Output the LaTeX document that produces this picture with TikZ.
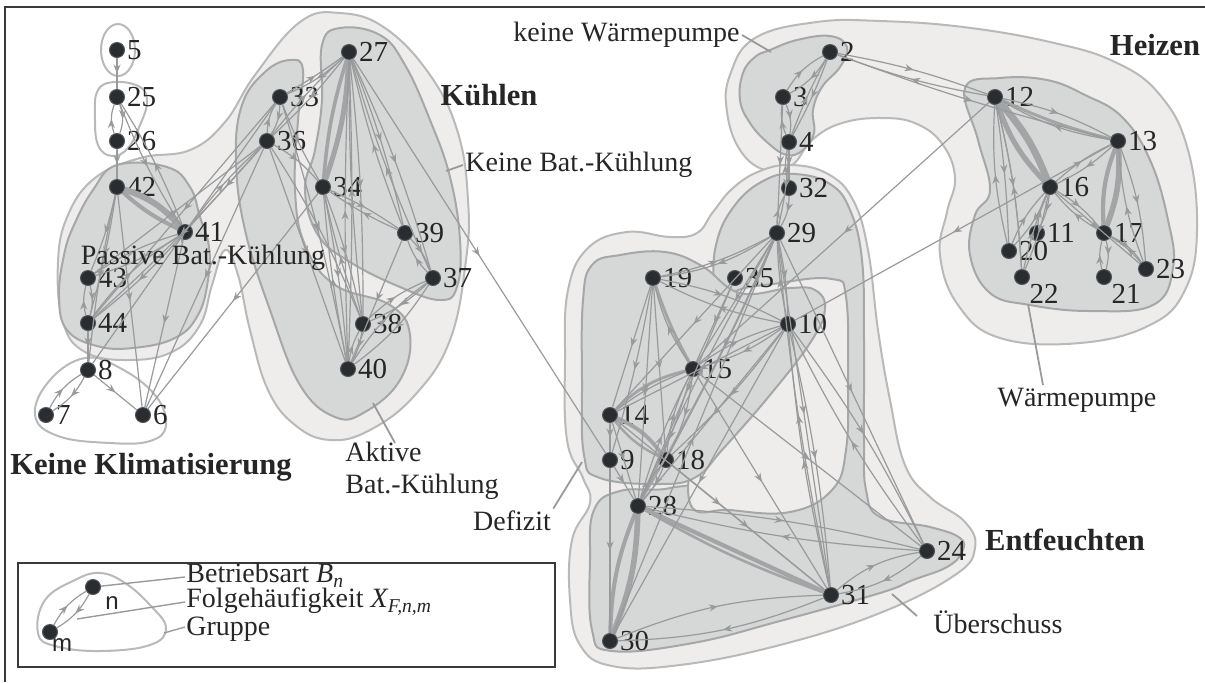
\documentclass[tikz,border=0pt]{standalone}
\usepackage{fontspec}
\setmainfont{Liberation Serif}
\setsansfont{Liberation Sans}
\usetikzlibrary{positioning, arrows.meta, decorations.markings}
\definecolor{GroupLight}{HTML}{EEEDEC}
\definecolor{GroupLightLine}{HTML}{B9B9B9}
\definecolor{GroupMid}{HTML}{D6D7D7}
\definecolor{GroupMidLine}{HTML}{A6A7A8}
\definecolor{EdgeGray}{HTML}{999A9B}
\definecolor{HeavyGray}{HTML}{A2A4A6}
\definecolor{DotFill}{HTML}{2A2D30}
\definecolor{DotLine}{HTML}{50545A}
\definecolor{Frame}{HTML}{3A3A3A}
\newcommand{\numfont}{\fontsize{14.5}{16}\selectfont}
\newcommand{\txtfont}{\fontsize{14}{16}\selectfont}
\newcommand{\ttlfont}{\fontsize{15.3}{17}\selectfont\bfseries}

\begin{document}
\begin{tikzpicture}[x=0.5pt, y=-0.5pt,
    mode/.style={circle, fill=DotFill, draw=DotLine, line width=0.5pt, minimum size=7.5pt, inner sep=0pt},
    every label/.style={font=\numfont, inner sep=0.8pt, text=black!85},
    outer/.style={fill=GroupLight, draw=GroupLightLine, line width=1pt},
    inner/.style={fill=GroupMid, draw=GroupMidLine, line width=1pt},
    ring/.style={draw=GroupLightLine, line width=1pt},
    fl/.style={color=EdgeGray, line width=0.6pt, postaction={decorate},
        decoration={markings, mark=at position 0.5 with {\arrow{Stealth[length=4.5pt, width=3.5pt]}}}},
    heavy/.style={draw=HeavyGray},
    lead/.style={draw=EdgeGray, line width=0.9pt},
    title/.style={font=\ttlfont, text=black!85},
    note/.style={font=\txtfont, text=black!85, inner sep=1pt},
    frame/.style={draw=Frame, line width=0.8pt}
]
\useasboundingbox (0,0) rectangle (1205,682);
\draw[frame] (5,682) -- (5,7) -- (1205,7);

% Gruppen (hell)
\draw[outer] plot[smooth cycle, tension=0.7] coordinates {(300,22) (340,13) (385,28) (430,75) (458,133) (468,200) (466,260) (450,340) (415,395) (370,430) (330,440) (295,425) (268,390) (250,330) (238,275) (225,250) (212,285) (200,325) (172,352) (128,360) (85,352) (63,322) (58,262) (68,215) (95,178) (140,158) (190,150) (225,122) (255,75)};
\draw[outer] plot[smooth cycle, tension=0.7] coordinates {(730,75) (755,38) (817,22) (880,21) (963,27) (1050,42) (1115,62) (1160,95) (1188,150) (1197,230) (1185,290) (1150,325) (1080,343) (1000,338) (958,305) (940,255) (947,212) (955,178) (943,145) (917,124) (883,118) (842,123) (812,140) (792,165) (765,170) (740,150) (727,112)};
\draw[outer] plot[smooth cycle, tension=0.7] coordinates {(568,290) (588,248) (627,232) (670,237) (697,233) (713,212) (733,188) (760,171) (792,165) (828,174) (853,200) (868,250) (878,330) (890,400) (905,465) (930,497) (965,522) (975,548) (955,575) (880,613) (780,645) (680,665) (612,666) (580,645) (570,600) (572,540) (590,503) (583,478) (567,440) (565,360)};

% Gruppen ohne Fuellung
\draw[ring] (118,50) ellipse [x radius=17, y radius=26];
\draw[ring] plot[smooth cycle, tension=0.7] coordinates {(98,90) (115,82) (140,87) (147,102) (140,125) (128,148) (112,156) (98,145) (95,115)};
\draw[ring] plot[smooth cycle, tension=0.7] coordinates {(35,415) (50,380) (85,358) (120,368) (155,395) (166,425) (150,441) (110,443) (58,436)};

% Gruppen (mittel)
\draw[inner] plot[smooth cycle, tension=0.7] coordinates {(117,165) (167,167) (190,187) (200,217) (209,247) (208,280) (198,315) (175,338) (133,348) (97,346) (67,330) (59,297) (64,255) (74,225) (93,190)};
\draw[inner] plot[smooth cycle, tension=0.7] coordinates {(322,45) (340,28) (380,35) (405,65) (430,120) (450,177) (460,240) (457,287) (440,300) (400,287) (350,262) (318,235) (305,190) (315,150) (322,100)};
\draw[inner] plot[smooth cycle, tension=0.7] coordinates {(265,72) (290,60) (303,70) (298,120) (295,190) (305,245) (335,285) (390,305) (410,335) (400,380) (365,412) (335,417) (300,385) (270,310) (245,230) (236,160) (242,105)};
\draw[inner] plot[smooth cycle, tension=0.7] coordinates {(770,50) (797,40) (830,36) (847,47) (840,67) (822,87) (813,110) (814,133) (803,150) (787,155) (768,143) (750,123) (740,100) (743,73) (755,57)};
\draw[inner] plot[smooth cycle, tension=0.7] coordinates {(965,88) (1000,78) (1047,80) (1085,95) (1122,117) (1150,160) (1168,220) (1173,268) (1153,305) (1090,311) (1030,305) (990,293) (970,255) (975,215) (990,190) (978,140)};
\draw[inner] plot[smooth cycle, tension=0.7] coordinates {(716,245) (735,205) (765,180) (795,174) (830,184) (850,210) (862,260) (864,340) (864,440) (866,490) (880,517) (930,527) (960,538) (962,552) (947,567) (913,580) (880,593) (780,621) (693,643) (612,651) (592,630) (590,560) (594,510) (620,491) (670,488) (700,470) (710,380) (713,300)};
\draw[inner, fill=GroupLight] plot[smooth cycle, tension=0.7] coordinates {(728,296) (780,283) (832,279) (846,297) (848,380) (846,450) (832,490) (790,512) (730,510) (690,503) (698,420) (710,340)};
\draw[inner] plot[smooth cycle, tension=0.7] coordinates {(583,300) (592,265) (620,255) (665,252) (702,266) (740,293) (790,288) (815,290) (825,308) (812,340) (770,395) (722,450) (696,477) (660,484) (600,478) (584,455) (582,380)};

% Betriebsarten
\foreach \n/\x/\y in {5/117/50, 25/117/97, 26/117/141, 42/117/187, 41/185/232, 43/88/278, 44/88/323, 8/88/370, 7/46/415, 6/143/415,
    33/280/97, 36/267/141, 27/349/52, 34/323/187, 39/405/233, 37/433/278, 38/363/324, 40/348/369,
    2/830/52, 3/783/97, 4/789/142, 12/995/97, 13/1118/141, 16/1050/187, 11/1037/233, 17/1104/233, 20/1009/251, 23/1146/269,
    32/789/188, 29/777/233, 19/653/278, 35/735/278, 10/788/324, 15/693/369, 14/610/415, 9/610/460, 18/666/460, 28/638/506, 24/927/551, 31/831/595, 30/610/641}
    \node[mode, label=right:\n] (n\n) at (\x,\y) {};
\node[mode, label=below right:22] (n22) at (1022,277) {};
\node[mode, label=below right:21] (n21) at (1104,277) {};

% starke Uebergaenge
\foreach \a/\b/\c/\w in {42/41/15/3, 41/42/8/2, 27/34/8/2.5, 34/27/6/1.8, 12/16/10/3.5, 16/12/12/2.6,
    13/17/12/2.8, 17/13/12/2.1, 12/13/-5/1.5, 19/15/-5/1.5, 15/14/-15/1.4, 14/18/15/1.9, 18/14/12/1.2,
    28/30/10/2.8, 30/28/10/2, 28/31/0/2.1, 31/28/5/1.3, 29/28/3/1}
    \draw[heavy, line width=\w pt] (n\a) to[bend left=\c] (n\b);

% Uebergaenge
\foreach \a/\b/\c in {5/25/0, 25/26/20, 26/25/20, 26/42/0, 25/41/-5, 41/25/-5,
    42/43/5, 42/44/3, 43/44/15, 44/43/15, 44/8/0, 42/8/-3,
    41/43/8, 43/41/8, 41/44/5, 44/41/10, 41/6/0, 42/6/0, 8/7/15, 7/8/15, 8/6/0,
    36/41/0, 41/36/5, 33/44/0, 36/44/3, 8/33/0, 34/6/0, 36/6/0, 43/36/0}
    \draw[fl] (n\a) to[bend left=\c] (n\b);
\foreach \a/\b/\c in {27/33/10, 33/36/15, 36/33/15, 27/36/4, 36/27/4, 33/27/-3,
    27/39/4, 39/27/4, 27/37/4, 37/27/4, 27/38/3, 38/27/3, 27/40/2, 40/27/2,
    34/38/4, 38/34/4, 34/40/3, 40/34/3, 34/39/5, 39/34/5, 36/34/10, 36/40/0, 36/38/5, 33/40/3, 33/34/-5,
    39/37/12, 37/39/12, 39/40/0, 37/38/10, 38/37/10, 37/40/10, 40/37/10, 38/40/10, 40/38/10, 27/9/0}
    \draw[fl] (n\a) to[bend left=\c] (n\b);
\foreach \a/\b/\c in {2/3/15, 3/2/15, 3/4/15, 4/3/15, 2/4/4, 4/2/4, 4/32/0, 32/4/12, 3/29/0, 4/29/5,
    2/12/5, 12/2/5, 2/13/-3, 12/13/8, 13/12/10, 13/16/8, 16/13/8, 16/11/10, 11/16/10, 16/20/10, 20/16/10,
    16/22/5, 22/16/5, 16/17/10, 17/16/10, 17/21/15, 21/17/15, 17/23/15, 23/17/-10, 13/23/8, 23/13/8,
    12/20/3, 20/12/8, 12/22/5, 22/12/-5, 16/23/0, 13/10/0, 12/15/0}
    \draw[fl] (n\a) to[bend left=\c] (n\b);
\foreach \a/\b/\c in {32/29/15, 29/32/15, 29/19/12, 19/29/-8, 19/10/8, 10/19/8, 15/19/10,
    19/14/0, 19/9/3, 19/18/0, 19/28/0, 29/15/0, 29/14/0, 29/18/2, 28/29/3, 29/10/5, 10/29/5,
    29/31/0, 31/29/3, 29/24/0, 35/28/0, 35/15/0, 10/15/10, 15/10/10, 10/14/0, 10/18/5, 10/28/0,
    10/31/4, 31/10/4, 10/24/5, 24/10/5, 10/30/0, 14/15/8, 15/18/10, 18/15/10, 15/28/5, 28/15/5,
    15/31/0, 15/24/0, 14/9/0, 14/28/0, 9/28/0, 9/30/0, 18/28/10, 28/18/10, 28/24/5, 24/28/5,
    30/31/10, 31/30/10, 31/24/15, 24/31/15, 30/29/0, 14/31/0, 18/31/0}
    \draw[fl] (n\a) to[bend left=\c] (n\b);

% Beschriftungen
\node[title] (tKuehlen) at (489,95) {Kühlen};
\node[title] (tHeizen) at (1155,45) {Heizen};
\node[title] (tEntf) at (1065,540) {Entfeuchten};
\node[title] (tKeineKlima) at (151,467) {Keine Klimatisierung};
\node[note, inner sep=0pt] (tPassive) at (203,258) {Passive Bat.-Kühlung};
\node[note, anchor=west] (tKeineBat) at (463,165) {Keine Bat.-Kühlung};
\node[note, anchor=north west, align=left] (tAktive) at (343,440) {Aktive\\Bat.-Kühlung};
\node[note] (tDefizit) at (512,521) {Defizit};
\node[note, anchor=west] (tUeber) at (931,622) {Überschuss};
\node[note] (tWP) at (1077,400) {Wärmepumpe};
\node[note, anchor=east] (tKeineWP) at (742,35) {keine Wärmepumpe};

\coordinate (cKeineBat) at (446,171);
\coordinate (cAktive) at (373,403);
\coordinate (cAktiveTxt) at (395,443);
\coordinate (cDefizit) at (582,462);
\coordinate (cUeber) at (892,594);
\coordinate (cUeberTxt) at (917,616);
\coordinate (cWP) at (1028,304);
\coordinate (cWPTxt) at (1043,385);
\coordinate (cKeineWP) at (771,52);
\draw[lead] (tKeineBat.west) -- (cKeineBat);
\draw[lead] (cAktiveTxt) -- (cAktive);
\draw[lead] (tDefizit.north east) -- (cDefizit);
\draw[lead] (cUeberTxt) -- (cUeber);
\draw[lead] (cWPTxt) -- (cWP);
\draw[lead] (tKeineWP.east) -- (cKeineWP);

% Legende
\draw[frame] (18,563) rectangle (555,667);
\draw[ring] plot[smooth cycle, tension=0.7] coordinates {(38,633) (45,600) (75,580) (100,573) (125,583) (150,605) (166,628) (150,645) (100,651) (55,646)};
\node[mode] (ln) at (93,587) {};
\node[mode] (lm) at (50,632) {};
\node[font=\sffamily\fontsize{12}{14}\selectfont, text=black!85, inner sep=0pt] (lnTxt) at (112,603) {n};
\node[font=\sffamily\fontsize{12}{14}\selectfont, text=black!85, inner sep=0pt] (lmTxt) at (62,645) {m};
\draw[fl] (lm) to[bend left=15] (ln);
\draw[fl] (ln) to[bend left=15] (lm);
\node[note, anchor=north west, align=left, font=\fontsize{14}{12.5}\selectfont, inner sep=0pt] (tLegende) at (186,563)
    {Betriebsart {\itshape B}\textsubscript{\itshape n}\\Folgehäufigkeit {\itshape X}\textsubscript{\itshape F,n,m}\\Gruppe};
\coordinate (cBetrieb) at (185,577);
\coordinate (cFolgeTxt) at (185,602);
\coordinate (cGruppeTxt) at (185,627);
\coordinate (cFolge) at (77,619);
\coordinate (cGruppe) at (164,633);
\draw[lead, line width=0.7pt] (ln) -- (cBetrieb);
\draw[lead, line width=0.7pt] (cFolge) -- (cFolgeTxt);
\draw[lead, line width=0.7pt] (cGruppe) -- (cGruppeTxt);
\end{tikzpicture}
\end{document}
